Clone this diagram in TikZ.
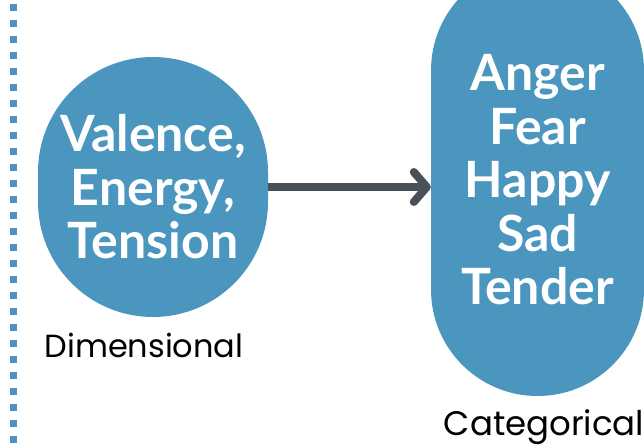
\documentclass[tikz,border=0pt]{standalone}
\usepackage{fontspec}
\setmainfont{Poppins}
\newfontfamily\boxfont{Lato}
\usetikzlibrary{arrows.meta}
\definecolor{moodblue}{HTML}{4A96BF}
\definecolor{arrowgray}{HTML}{4A5057}
\tikzset{
  mood/.style={fill=moodblue, text=white, align=center,
    font=\boxfont\bfseries\fontsize{50}{53.5}\selectfont},
  caption/.style={font=\fontsize{32}{36}\selectfont, text=black},
  link/.style={draw=arrowgray, line width=8pt,
    -{Straight Barb[length=13pt, width=30pt, line width=8pt, line cap=round, line join=round]}}
}
\begin{document}
\begin{tikzpicture}[x=1pt,y=-1pt]
\useasboundingbox (0,0) rectangle (644,446);
\coordinate (railtop) at (13,4);
\coordinate (railbot) at (13,446);
\draw[moodblue, line width=7pt, dash pattern=on 7pt off 9pt] (railtop) -- (railbot);
\node[mood, minimum width=230pt, minimum height=260pt, rounded corners=115pt] (dim) at (153,187) {Valence,\\Energy,\\Tension};
\node[mood, minimum width=213pt, minimum height=432pt, rounded corners=106.5pt] (cat) at (537.5,180) {Anger\\Fear\\Happy\\Sad\\Tender};
\node[caption] (dimlabel) at (144,345) {Dimensional};
\node[caption, font=\fontsize{34}{38}\selectfont] (catlabel) at (544,427) {Categorical};
\draw[link] (dim.east) -- (dim.east -| cat.west);
\end{tikzpicture}
\end{document}
